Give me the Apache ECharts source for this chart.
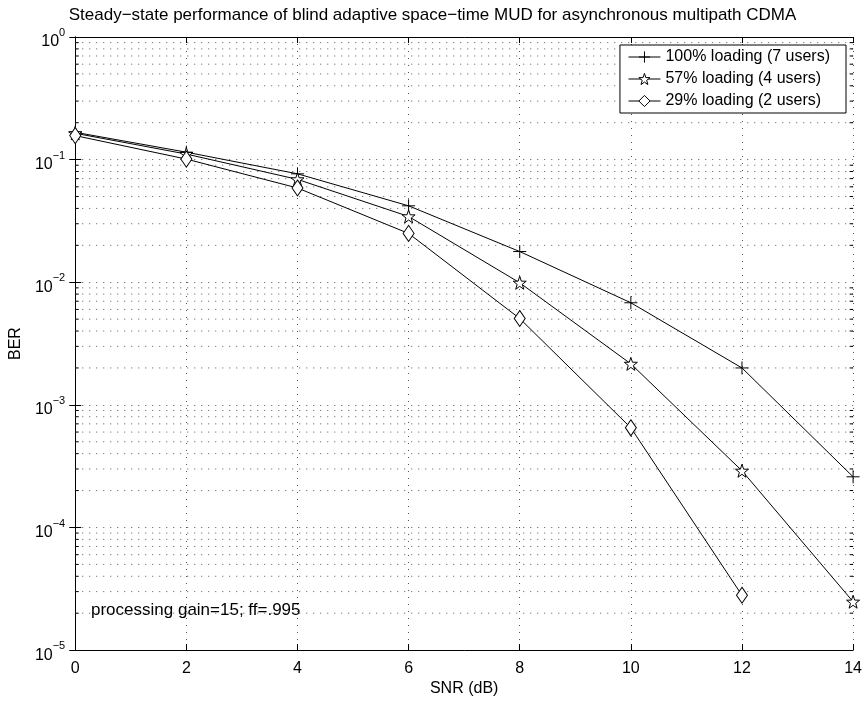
<!DOCTYPE html>
<html>
<head>
<meta charset="utf-8">
<script src="https://cdn.jsdelivr.net/npm/echarts@6/dist/echarts.min.js"></script>
<style>
  html, body { margin: 0; padding: 0; background: #fff; }
  #chart { width: 865px; height: 702px; }
</style>
</head>
<body>
<div id="chart"></div>
<script>
// SNR sweep (dB) and measured bit error rates per loading level
const snr = [0, 2, 4, 6, 8, 10, 12, 14];
const ber100 = [0.167, 0.115, 0.0766, 0.0420, 0.0178, 0.0068, 0.0020, 0.000259];
const ber57 = [0.164, 0.111, 0.069, 0.0344, 0.0099, 0.00216, 0.00029, 0.0000248];
const ber29 = [0.157, 0.101, 0.0587, 0.025, 0.00506, 0.00065, 0.000028];

const seriesNames = ['100% loading (7 users)', '57% loading (4 users)', '29% loading (2 users)'];
const titleText = 'Steady\u2212state performance of blind adaptive space\u2212time MUD for asynchronous multipath CDMA';
const noteText = 'processing gain=15; ff=.995';

// log-axis decades and the 2..9 subdivisions within each
const decades = [-5, -4, -3, -2, -1, 0];
const minorSteps = [2, 3, 4, 5, 6, 7, 8, 9];

const FONT = 'Liberation Sans, Arial, Helvetica, sans-serif';
const FS = 16;
const DOT = [1, 6];
const GRID_COLOR = '#555';

const minorValues = [];
decades.slice(0, -1).forEach(function (e) {
  minorSteps.forEach(function (m) { minorValues.push([0, m * Math.pow(10, e)]); });
});

const pair = (ys) => ys.map((y, i) => [snr[i], y]);

const plusSymbol = 'path://M0,50L100,50M50,0L50,100';
const starSymbol = 'path://M50,0L61.8,33.8L97.6,34.5L69,56.2L79.4,90.5L50,70L20.6,90.5L31,56.2L2.4,34.5L38.2,33.8Z';

function lineSeries(name, data, symbol, size) {
  return {
    name: name,
    type: 'line',
    data: data,
    symbol: symbol,
    symbolSize: size,
    showAllSymbol: true,
    z: 5,
    lineStyle: { color: '#000', width: 1 },
    itemStyle: { color: '#fff', borderColor: '#000', borderWidth: 1 },
    emphasis: { disabled: true },
    animation: false
  };
}

const chart = echarts.init(document.getElementById('chart'), null, { renderer: 'canvas' });

const axisCommon = {
  axisLine: { lineStyle: { color: '#000', width: 1 } },
  axisTick: { inside: true, length: 6, lineStyle: { color: '#000' } },
  axisLabel: { color: '#000', fontFamily: FONT, fontSize: FS }
};

chart.setOption({
  animation: false,
  backgroundColor: '#fff',
  title: {
    text: titleText,
    left: 'center',
    top: 2,
    textStyle: { fontFamily: FONT, fontSize: 17, fontWeight: 'normal', color: '#000' }
  },
  grid: { left: 70, right: 10, top: 37, bottom: 47, containLabel: false },
  legend: {
    data: seriesNames,
    orient: 'vertical',
    right: 19,
    top: 45,
    backgroundColor: '#fff',
    borderColor: '#000',
    borderWidth: 1,
    borderRadius: 0,
    padding: [4, 16, 4, 8],
    itemGap: 6,
    itemWidth: 32,
    itemHeight: 14,
    lineStyle: { width: 1, color: '#000' },
    itemStyle: { borderWidth: 1 },
    textStyle: { fontFamily: FONT, fontSize: FS, color: '#000' },
    selectedMode: false
  },
  xAxis: [
    Object.assign({}, axisCommon, {
      type: 'value', min: 0, max: 14, interval: 2,
      name: 'SNR (dB)', nameLocation: 'middle', nameGap: 30,
      nameTextStyle: { fontFamily: FONT, fontSize: FS, color: '#000' },
      axisLabel: { color: '#000', fontFamily: FONT, fontSize: FS, margin: 10 },
      splitLine: { show: true, lineStyle: { type: DOT, color: GRID_COLOR } }
    }),
    Object.assign({}, axisCommon, {
      type: 'value', min: 0, max: 14, interval: 2, position: 'top',
      axisLabel: { show: false }, splitLine: { show: false }
    })
  ],
  yAxis: [
    Object.assign({}, axisCommon, {
      type: 'log', logBase: 10, min: 1e-5, max: 1,
      name: 'BER', nameLocation: 'middle', nameGap: 41,
      nameTextStyle: { fontFamily: FONT, fontSize: FS, color: '#000' },
      axisLabel: {
        margin: 10,
        formatter: function (v) {
          const e = Math.round(Math.log10(v));
          return '{b|10}{s|' + (e < 0 ? '\u2212' + (-e) : e) + '}';
        },
        rich: {
          b: { fontFamily: FONT, fontSize: FS, color: '#000', padding: [10, 0, 0, 0] },
          s: { fontFamily: FONT, fontSize: 11, color: '#000', padding: [0, 0, 8, 0] }
        }
      },
      splitLine: { show: true, lineStyle: { type: DOT, color: GRID_COLOR } }
    }),
    Object.assign({}, axisCommon, {
      type: 'log', logBase: 10, min: 1e-5, max: 1, position: 'right',
      axisLabel: { show: false }, splitLine: { show: false }
    })
  ],
  graphic: [{
    type: 'text',
    left: 91,
    top: 602,
    style: { text: noteText, fontFamily: FONT, fontSize: 17, fill: '#000' }
  }],
  series: [
    {
      // dotted minor grid lines at 2..9 within each decade, with inward ticks on both sides
      type: 'custom',
      silent: true,
      z: 1,
      data: minorValues,
      renderItem: function (params, api) {
        const v = api.value(1);
        const p0 = api.coord([0, v]);
        const p1 = api.coord([14, v]);
        const y = p0[1];
        return {
          type: 'group',
          children: [
            { type: 'line', shape: { x1: p0[0], y1: y, x2: p1[0], y2: y },
              style: { stroke: GRID_COLOR, lineWidth: 1, lineDash: DOT } },
            { type: 'line', shape: { x1: p0[0], y1: y, x2: p0[0] + 3.5, y2: y },
              style: { stroke: '#000', lineWidth: 1 } },
            { type: 'line', shape: { x1: p1[0], y1: y, x2: p1[0] - 3.5, y2: y },
              style: { stroke: '#000', lineWidth: 1 } }
          ]
        };
      }
    },
    lineSeries(seriesNames[0], pair(ber100), plusSymbol, [13, 13]),
    lineSeries(seriesNames[1], pair(ber57), starSymbol, [13, 13]),
    lineSeries(seriesNames[2], pair(ber29), 'diamond', [11, 16])
  ]
});
</script>
</body>
</html>
